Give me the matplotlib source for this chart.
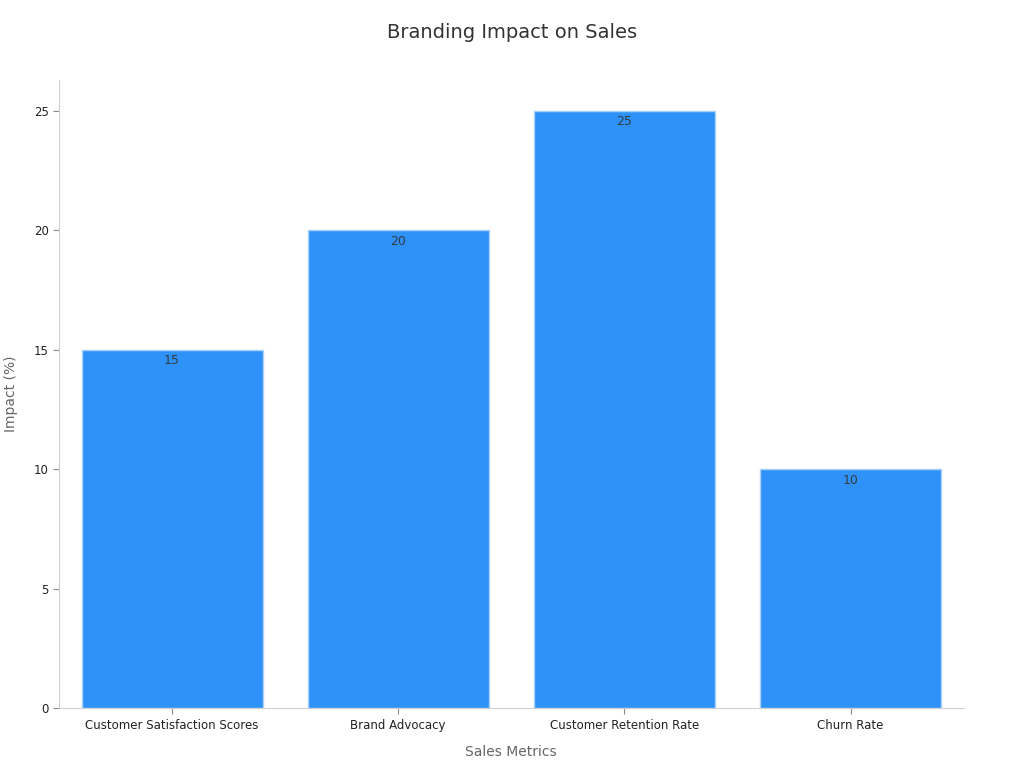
import matplotlib.pyplot as plt
import numpy as np

categories = ["Customer Satisfaction Scores", "Brand Advocacy", "Customer Retention Rate", "Churn Rate"]
impact = [15, 20, 25, 10]

fig = plt.figure(figsize=(10.24, 7.68), dpi=100)
ax = fig.add_axes([0.0576, 0.078, 0.8834, 0.818])

x = np.arange(len(categories))
bars = ax.bar(x, impact, width=0.8, color="#2f92f8", edgecolor="#a9d0fb", linewidth=1)
for b, v in zip(bars, impact):
    ax.text(b.get_x() + b.get_width() / 2, v - 0.18, str(v), ha="center", va="top",
            fontsize=9, color="#333b45")

ax.set_xlim(-0.5, 3.5)
ax.set_ylim(0, 26.3)
ax.set_yticks([0, 5, 10, 15, 20, 25])
ax.set_xticks(x)
ax.set_xticklabels(categories)
ax.tick_params(axis="both", labelsize=8.5, colors="#222222", length=4, width=0.8)
ax.tick_params(axis="both", color="#888888")

for s in ["top", "right"]:
    ax.spines[s].set_visible(False)
for s in ["left", "bottom"]:
    ax.spines[s].set_color("#d0d0d0")

ax.set_xlabel("Sales Metrics", fontsize=10, color="#666666", labelpad=10)
ax.set_ylabel("Impact (%)", fontsize=10, color="#666666")
ax.yaxis.set_label_coords(-0.045, 0.5)
fig.suptitle("Branding Impact on Sales", fontsize=14, color="#333333", y=0.97)

fig.savefig("out.png", dpi=100)
